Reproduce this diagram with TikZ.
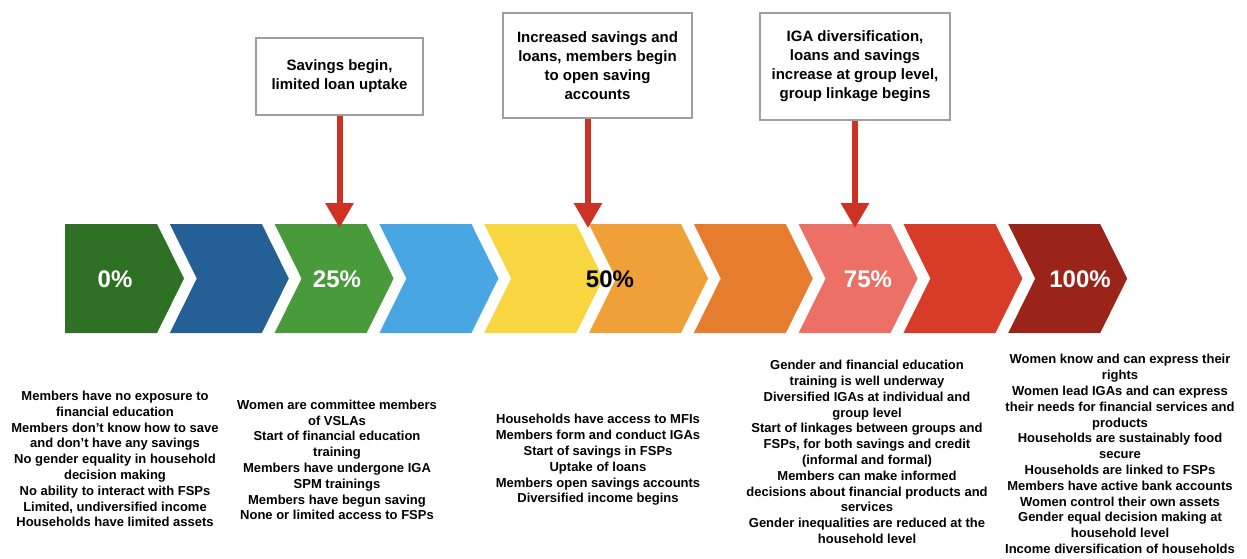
\documentclass[tikz,border=0pt]{standalone}
\usepackage{fontspec}
\setmainfont{Liberation Sans}
\usetikzlibrary{arrows.meta}

\definecolor{chA}{RGB}{46,112,36}
\definecolor{chB}{RGB}{36,96,150}
\definecolor{chC}{RGB}{73,154,58}
\definecolor{chD}{RGB}{72,166,226}
\definecolor{chE}{RGB}{247,214,64}
\definecolor{chF}{RGB}{240,160,56}
\definecolor{chG}{RGB}{230,124,46}
\definecolor{chH}{RGB}{236,112,102}
\definecolor{chI}{RGB}{214,60,40}
\definecolor{chJ}{RGB}{155,36,26}
\definecolor{arrowred}{RGB}{206,50,36}

\tikzset{
	box/.style={draw=gray!75, line width=1.5pt, fill=white, align=center, inner sep=0pt,
		font=\bfseries\fontsize{15}{19}\selectfont},
	arr/.style={draw=arrowred, line width=6pt, -{Triangle[width=27pt,length=25pt]}, shorten >=-4pt},
	pct/.style={text=white, inner sep=0pt, font=\bfseries\fontsize{24}{24}\selectfont},
	notes/.style={align=center, inner sep=0pt, font=\bfseries\fontsize{13}{15.8}\selectfont}
}

\begin{document}
\begin{tikzpicture}[x=1pt, y=-1pt]
		\useasboundingbox (0,0) rectangle (1247,558);
		\foreach \i/\col in {1/chA,2/chB,3/chC,4/chD,5/chE,6/chF,7/chG,8/chH,9/chI,10/chJ}{
			\pgfmathsetmacro{\x}{65+(\i-1)*104.8}
			\pgfmathsetmacro{\n}{\i>1 ? 27 : 0}
			\coordinate (C\i) at (\x,224);
			\fill[\col] (C\i) -- ++(92,0) -- ++(27,54.5) -- ++(-27,54.5) -- ++(-92,0) -- ++(\n,-54.5) -- cycle;
		}
		\node[pct] (P1) at (115,279) {0\%};
		\node[pct] (P2) at (337,279) {25\%};
		\node[pct, text=black] (P3) at (610,279) {50\%};
		\node[pct] (P4) at (868,279) {75\%};
		\node[pct] (P5) at (1080,279) {100\%};
		\node[box, minimum width=167pt, minimum height=77pt] (B1) at (339.5,76.5)
		{Savings begin,\\limited loan uptake};
		\node[box, minimum width=189pt, minimum height=105pt] (B2) at (597.5,65.5)
		{Increased savings and\\loans, members begin\\to open saving\\accounts};
		\node[box, minimum width=190pt, minimum height=107pt] (B3) at (855,66.5)
		{IGA diversification,\\loans and savings\\increase at group level,\\group linkage begins};
		\draw[arr] (B1.south) -- (B1.south |- C3);
		\draw[arr] ([xshift=-9.5pt]B2.south) -- ([xshift=-9.5pt]B2.south |- C6);
		\draw[arr] (B3.south) -- (B3.south |- C8);
		\node[notes] (T1) at (115,459) {Members have no exposure to\\financial education\\Members don't know how to save\\and don't have any savings\\No gender equality in household\\decision making\\No ability to interact with FSPs\\Limited, undiversified income\\Households have limited assets};
		\node[notes] (T2) at (337,460) {Women are committee members\\of VSLAs\\Start of financial education\\training\\Members have undergone IGA\\SPM trainings\\Members have begun saving\\None or limited access to FSPs};
		\node[notes] (T3) at (598,460) {Households have access to MFIs\\Members form and conduct IGAs\\Start of savings in FSPs\\Uptake of loans\\Members open savings accounts\\Diversified income begins};
		\node[notes] (T4) at (867,452) {Gender and financial education\\training is well underway\\Diversified IGAs at individual and\\group level\\Start of linkages between groups and\\FSPs, for both savings and credit\\(informal and formal)\\Members can make informed\\decisions about financial products and\\services\\Gender inequalities are reduced at the\\household level};
		\node[notes] (T5) at (1120,454) {Women know and can express their\\rights\\Women lead IGAs and can express\\their needs for financial services and\\products\\Households are sustainably food\\secure\\Households are linked to FSPs\\Members have active bank accounts\\Women control their own assets\\Gender equal decision making at\\household level\\Income diversification of households};
\end{tikzpicture}
\end{document}
